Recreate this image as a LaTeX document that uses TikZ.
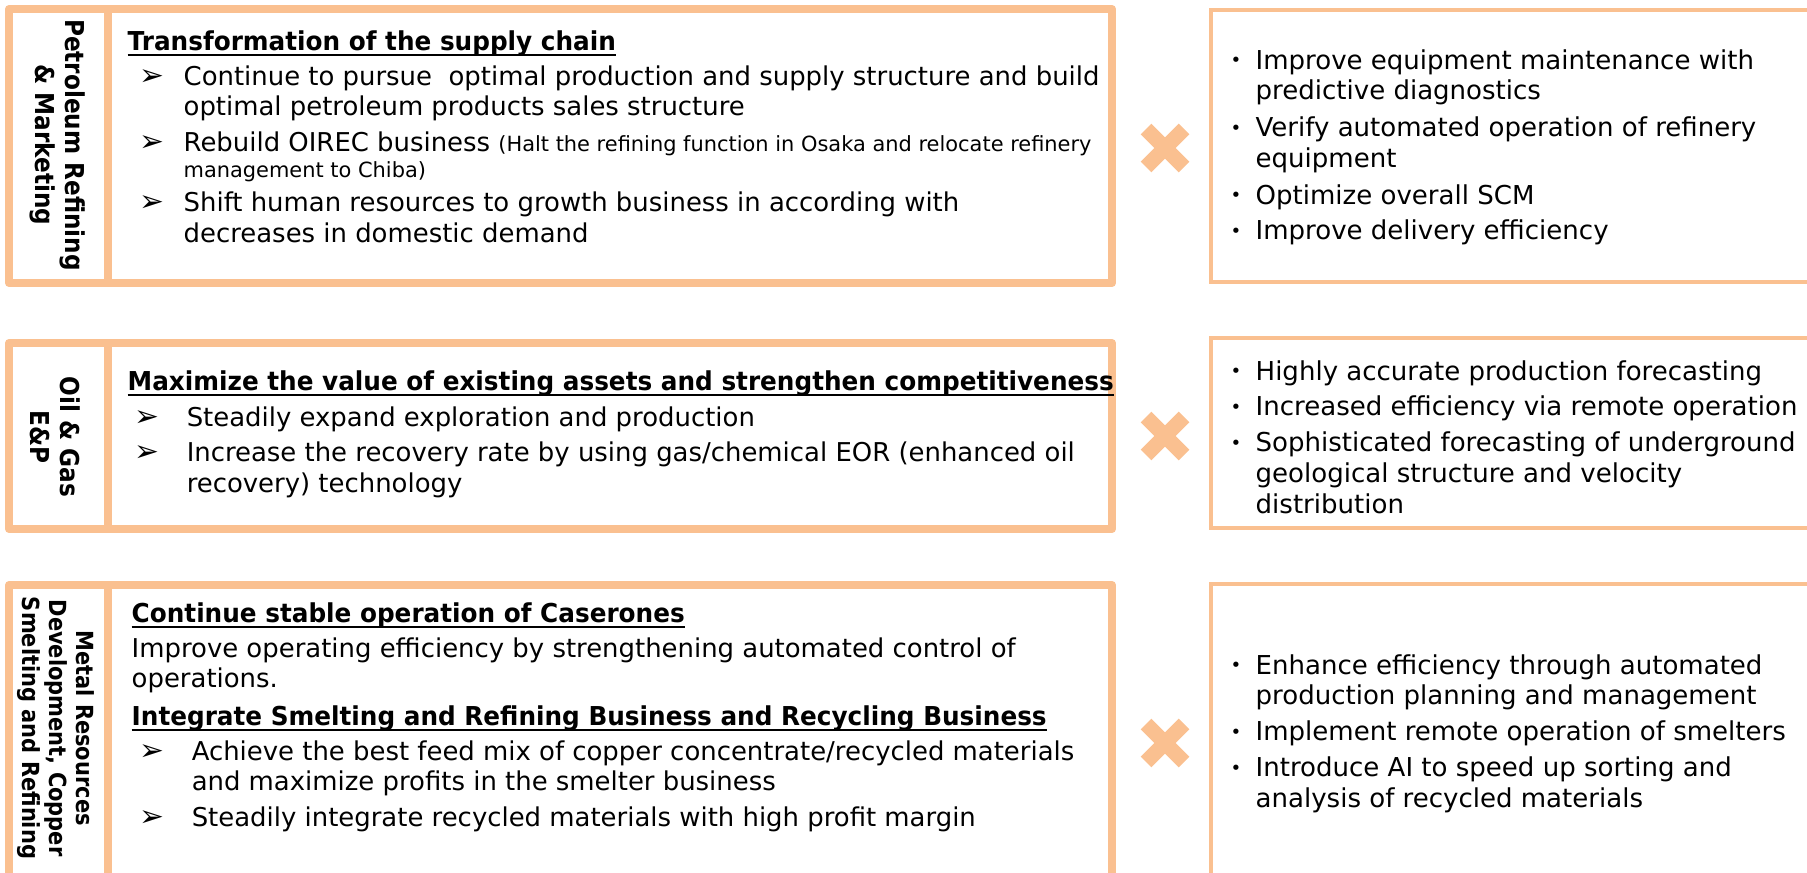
\documentclass[tikz,border=0pt]{standalone}
\usepackage{fontspec}
\setmainfont{DejaVu Sans}
\newfontfamily\narrowfont[FakeStretch=0.89]{DejaVu Sans}
\newfontfamily\headfont[FakeStretch=0.95]{DejaVu Sans}

\definecolor{peach}{RGB}{250,192,144}

\newcommand{\arrowbullet}{\scalebox{1.15}{➢}}
\newcommand{\dotbullet}{\raisebox{0.6pt}{\scalebox{0.7}{•}}}
\newcommand{\smalltext}{\fontsize{5.95}{7}\selectfont}
\newcommand{\headline}[1]{\underline{\smash{#1}}}

\tikzset{
  frame/.style={draw=peach, line width=2.3pt, line join=round},
  thinframe/.style={draw=peach, line width=1pt},
  head/.style={anchor=base west, inner sep=0pt, font={\headfont\fontsize{7.4}{8.8}\selectfont\bfseries}},
  lefttext/.style={anchor=base west, inner sep=0pt, font={\fontsize{7.37}{8.8}\selectfont}},
  righttext/.style={anchor=base west, inner sep=0pt, font={\fontsize{7.4}{8.8}\selectfont}},
  sidelabel/.style={rotate=-90, align=center, inner sep=0pt, font={\narrowfont\fontsize{7.4}{8.5}\selectfont\bfseries}},
}

\begin{document}
\begin{tikzpicture}[x=0.01cm, y=-0.01cm]
  \clip (0,0) rectangle (1807,872);

  % frames
  \draw[frame] (9,9) rectangle (1112,283);
  \draw[frame] (108,9) -- (108,283);
  \draw[frame] (9,343) rectangle (1112,529);
  \draw[frame] (108,343) -- (108,529);
  \draw[frame] (9,585) rectangle (1112,900);
  \draw[frame] (108,585) -- (108,900);

  \draw[thinframe] (1211,10) rectangle (1830,282);
  \draw[thinframe] (1211,338) rectangle (1830,528);
  \draw[thinframe] (1211,584) rectangle (1830,900);

  % crosses
  \foreach \y in {148,436,743}
    \draw[peach, line width=4.3pt] (1146,\y-19) -- (1184,\y+19) (1146,\y+19) -- (1184,\y-19);

  % segment labels
  \node[sidelabel] (refining) at (58,145) {Petroleum Refining\\\& Marketing};
  \node[sidelabel] (oilgas) at (55,437) {Oil \& Gas\\E\&P};
  \node[sidelabel, font={\narrowfont\fontsize{6.7}{7.6}\selectfont\bfseries}] (metals) at (56,728)
    {Metal Resources\\Development, Copper\\Smelting and Refining};

  % petroleum refining & marketing
  \node[head] (supplyhead) at (127,50) {\headline{Transformation of the supply chain}};
  \node[lefttext] (supplylist) at (139,85) {\begin{tabular}[t]{@{}p{12.5pt}@{}l@{}}
    \arrowbullet & Continue to pursue\ \ optimal production and supply structure and build\\
    & optimal petroleum products sales structure\\[1.4pt]
    \arrowbullet & Rebuild OIREC business {\smalltext(Halt the refining function in Osaka and relocate refinery}\\[-1.4pt]
    & {\smalltext management to Chiba)}\\[0.9pt]
    \arrowbullet & Shift human resources to growth business in according with\\
    & decreases in domestic demand
  \end{tabular}};
  \node[righttext] (supplydx) at (1230,69) {\begin{tabular}[t]{@{}p{7.1pt}@{}l@{}}
    \dotbullet & Improve equipment maintenance with\\
    & predictive diagnostics\\[1.6pt]
    \dotbullet & Verify automated operation of refinery\\
    & equipment\\[1.6pt]
    \dotbullet & Optimize overall SCM\\[1.2pt]
    \dotbullet & Improve delivery efficiency
  \end{tabular}};

  % oil & gas e&p
  \node[head] (assethead) at (127,390) {\headline{Maximize the value of existing assets and strengthen competitiveness}};
  \node[lefttext] (assetlist) at (134,426) {\begin{tabular}[t]{@{}p{14.8pt}@{}l@{}}
    \arrowbullet & Steadily expand exploration and production\\[1.4pt]
    \arrowbullet & Increase the recovery rate by using gas/chemical EOR (enhanced oil\\
    & recovery) technology
  \end{tabular}};
  \node[righttext] (assetdx) at (1230,380) {\begin{tabular}[t]{@{}p{7.1pt}@{}l@{}}
    \dotbullet & Highly accurate production forecasting\\[1.4pt]
    \dotbullet & Increased efficiency via remote operation\\[1.4pt]
    \dotbullet & Sophisticated forecasting of underground\\
    & geological structure and velocity\\
    & distribution
  \end{tabular}};

  % metal resources
  \node[head] (caseroneshead) at (131,622) {\headline{Continue stable operation of Caserones}};
  \node[lefttext] (caseronestext) at (131,657) {\begin{tabular}[t]{@{}l@{}}
    Improve operating efficiency by strengthening automated control of\\
    operations.
  \end{tabular}};
  \node[head] (smelthead) at (131,725) {\headline{Integrate Smelting and Refining Business and Recycling Business}};
  \node[lefttext] (smeltlist) at (139,760) {\begin{tabular}[t]{@{}p{14.8pt}@{}l@{}}
    \arrowbullet & Achieve the best feed mix of copper concentrate/recycled materials\\
    & and maximize profits in the smelter business\\[1.4pt]
    \arrowbullet & Steadily integrate recycled materials with high profit margin
  \end{tabular}};
  \node[righttext] (smeltdx) at (1230,674) {\begin{tabular}[t]{@{}p{7.1pt}@{}l@{}}
    \dotbullet & Enhance efficiency through automated\\
    & production planning and management\\[1.4pt]
    \dotbullet & Implement remote operation of smelters\\[1.4pt]
    \dotbullet & Introduce AI to speed up sorting and\\
    & analysis of recycled materials
  \end{tabular}};
\end{tikzpicture}
\end{document}
